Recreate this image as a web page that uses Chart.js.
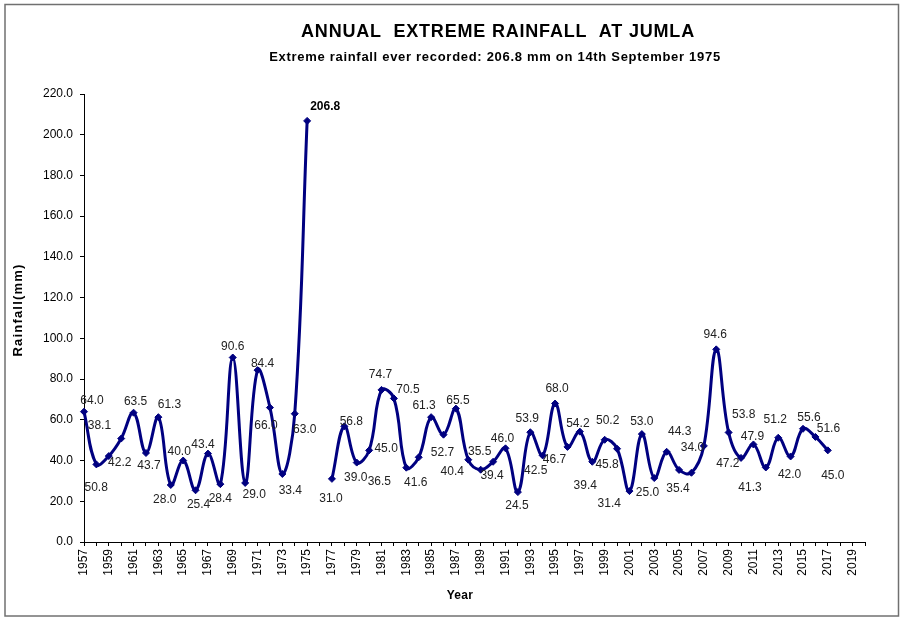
<!DOCTYPE html>
<html>
<head>
<meta charset="utf-8">
<title>Annual Extreme Rainfall at Jumla</title>
<script src="https://cdn.jsdelivr.net/npm/chart.js@4.4.1/dist/chart.umd.min.js"></script>
<style>
    body { margin: 0; background: #fff; }
    #wrap { width: 902px; height: 620px; }
</style>
</head>
<body>
<div id="wrap"><canvas id="rainChart" width="902" height="620"></canvas></div>
<script>
// Category axis runs one year past the last record
const years = [];
for (let y = 1957; y <= 2020; y++) years.push(String(y));

// Annual maximum one-day rainfall (mm), 1957-2017; 1976 missing
const rainfall = [
    64.0, 38.1, 42.2, 50.8, 63.5, 43.7, 61.3, 28.0, 40.0, 25.4,   // 1957-1966
    43.4, 28.4, 90.6, 29.0, 84.4, 66.0, 33.4, 63.0, 206.8, null,  // 1967-1976
    31.0, 56.8, 39.0, 45.0, 74.7, 70.5, 36.5, 41.6, 61.3, 52.7,   // 1977-1986
    65.5, 40.4, 35.5, 39.4, 46.0, 24.5, 53.9, 42.5, 68.0, 46.7,   // 1987-1996
    54.2, 39.4, 50.2, 45.8, 25.0, 53.0, 31.4, 44.3, 35.4, 34.0,   // 1997-2006
    47.2, 94.6, 53.8, 41.3, 47.9, 36.6, 51.2, 42.0, 55.6, 51.6,   // 2007-2016
    45.0                                                          // 2017
];

const yTicks = { min: 0, max: 220, step: 20 };

const FONT = "'Liberation Sans', Arial, Helvetica, sans-serif";
const NAVY = '#000080';

// where each value label sits relative to its point (px); null = no label
const labelShift = [
    [8, -11], [3, -39], [11, 7], [-25, 49], [2, -11], [3, 13], [11, -12], [-6, 15], [-4, -9], [3, 14],
    [-5, -9], [0, 15], [0, -11], [9, 12], [5, -6], [-4, 18], [8, 17], [10, 16], [18, -14], null,
    [-1, 20], [7, -5], [-1, 15], [17, -2], [-1, -15], [14, -9], [-27, 14], [-3, 25], [-7, -11], [-1, 18],
    [2, -8], [-16, 12], [-1, -18], [-1, 14], [-3, -10], [-1, 14], [-3, -14], [-7, 15], [2, -15], [-13, 13],
    [-2, -8], [-7, 24], [3, -19], [-10, 16], [18, 2], [0, -12], [-45, 26], [13, -20], [-1, 19], [1, -25],
    [24, 18], [-1, -15], [15, -18], [9, 30], [-1, -8], null, [-3, -18], [-1, 18], [6, -11], [13, -8],
    [5, 25]
];

function spacedText(ctx, text, x, y, font, spacing) {
    ctx.font = font;
    ctx.letterSpacing = spacing + 'px';
    ctx.fillText(text, x, y);
    ctx.letterSpacing = '0px';
}

// frame, titles and point labels drawn straight onto the canvas
const decorations = {
    id: 'decorations',
    beforeDraw(chart) {
        const ctx = chart.ctx;
        ctx.save();
        ctx.fillStyle = '#fff';
        ctx.fillRect(0, 0, chart.width, chart.height);
        ctx.strokeStyle = '#707070';
        ctx.lineWidth = 1.5;
        ctx.strokeRect(5, 4.5, 893.5, 611.5);
        ctx.restore();
    },
    afterDatasetsDraw(chart) {
        const ctx = chart.ctx;
        const meta = chart.getDatasetMeta(0);
        const top = Math.max(...rainfall.filter(r => r != null));
        ctx.save();
        ctx.textAlign = 'center';
        ctx.textBaseline = 'middle';
        meta.data.forEach((pt, i) => {
            const v = rainfall[i];
            const shift = labelShift[i];
            if (v == null || !shift) return;
            const peak = v === top;
            ctx.font = (peak ? 'bold ' : '') + '12px ' + FONT;
            ctx.fillStyle = peak ? '#000' : '#222';
            ctx.fillText(v.toFixed(1), pt.x + shift[0], pt.y + shift[1]);
        });
        ctx.restore();
    },
    afterDraw(chart) {
        const ctx = chart.ctx;
        ctx.save();
        ctx.fillStyle = '#000';
        ctx.textAlign = 'center';
        ctx.textBaseline = 'middle';
        spacedText(ctx, 'ANNUAL  EXTREME RAINFALL  AT JUMLA', 498, 32, 'bold 18px ' + FONT, 0.8);
        spacedText(ctx, 'Extreme rainfall ever recorded: 206.8 mm on 14th September 1975', 495, 57, 'bold 13px ' + FONT, 0.7);
        spacedText(ctx, 'Year', 460, 596, 'bold 12px ' + FONT, 0.3);
        ctx.translate(18, 310);
        ctx.rotate(-Math.PI / 2);
        spacedText(ctx, 'Rainfall(mm)', 0, 0, 'bold 13px ' + FONT, 1.2);
        ctx.restore();
    }
};

new Chart(document.getElementById('rainChart'), {
    type: 'line',
    data: {
        labels: years,
        datasets: [{
            label: 'Rainfall',
            data: rainfall,
            borderColor: NAVY,
            backgroundColor: NAVY,
            borderWidth: 3,
            tension: 0.4,
            spanGaps: false,
            pointStyle: 'rectRot',
            pointRadius: 3.5,
            pointBorderWidth: 1,
            fill: false
        }]
    },
    options: {
        responsive: false,
        animation: false,
        layout: { padding: { left: 6, top: 94, right: 37, bottom: 10 } },
        plugins: {
            legend: { display: false },
            tooltip: { enabled: false }
        },
        scales: {
            x: {
                type: 'category',
                offset: false,
                border: { color: '#000', width: 1 },
                grid: { drawOnChartArea: false, drawTicks: true, tickLength: 4, tickColor: '#000' },
                ticks: {
                    autoSkip: false,
                    minRotation: 90,
                    maxRotation: 90,
                    padding: 3,
                    color: '#000',
                    font: { family: FONT, size: 12 },
                    callback: (v, i) => (i % 2 === 0 ? years[i] : '')
                },
                afterFit: s => { s.height = 68; }
            },
            y: {
                min: yTicks.min,
                max: yTicks.max,
                border: { color: '#000', width: 1 },
                grid: { drawOnChartArea: false, drawTicks: true, tickLength: 4, tickColor: '#000' },
                ticks: {
                    stepSize: yTicks.step,
                    padding: 7,
                    color: '#000',
                    font: { family: FONT, size: 12 },
                    callback: v => v.toFixed(1)
                },
                afterFit: s => { s.width = 78; }
            }
        }
    },
    plugins: [decorations]
});
</script>
</body>
</html>
